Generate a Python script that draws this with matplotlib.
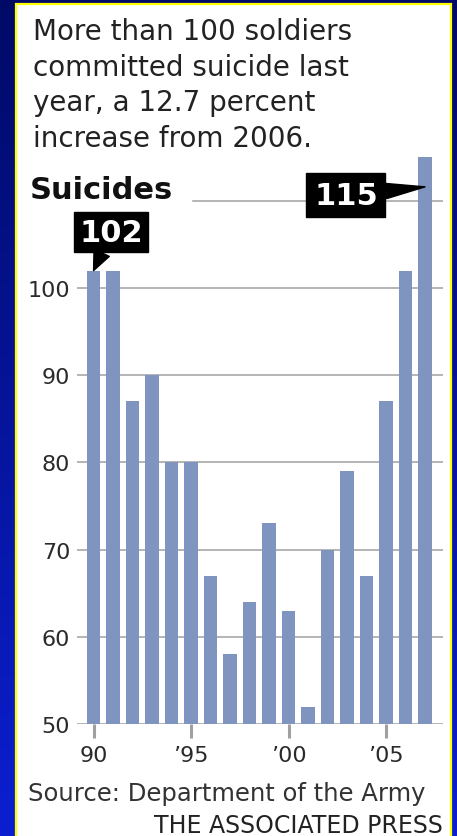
import numpy as np
import matplotlib.pyplot as plt
from matplotlib.colors import LinearSegmentedColormap
from matplotlib.patches import Rectangle

years = list(range(1990, 2008))
suicides = [102, 102, 87, 90, 80, 80, 67, 58, 64, 73, 63, 52, 70, 79, 67, 87, 102, 115]
xtick_years = [1990, 1995, 2000, 2005]
xtick_labels = ['90', '\u201995', '\u201900', '\u201905']
ytick_values = [50, 60, 70, 80, 90, 100]
title_lines = ['More than 100 soldiers', 'committed suicide last',
               'year, a 12.7 percent', 'increase from 2006.']

plt.rcParams['font.family'] = ['DejaVu Sans']
W, H = 457, 837
fig = plt.figure(figsize=(W / 100, H / 100), dpi=100)

# blue gradient backdrop + white panel with yellow edge
bg = fig.add_axes([0, 0, 1, 1])
grad = np.linspace(0, 1, 256).reshape(-1, 1)
cmap = LinearSegmentedColormap.from_list('bg', ['#000a66', '#0b1fd0'])
bg.imshow(grad, aspect='auto', extent=[0, 1, 0, 1], cmap=cmap, origin='upper')
bg.add_patch(Rectangle((16 / W, -0.01), (451 - 16) / W, 1.01 - 5 / H,
                       facecolor='white', edgecolor='#ffff00', lw=1.6))
bg.set_xlim(0, 1)
bg.set_ylim(0, 1)
bg.axis('off')

# main chart
ax = fig.add_axes([77 / W, (H - 725) / H, (443 - 77) / W, (725 - 149.5) / H])
ax.set_facecolor('none')
ax.bar(years, suicides, width=0.68, color='#7f95bf', zorder=2)
ax.set_xlim(1989.15, 2007.92)
ax.set_ylim(50, 116)
ax.set_yticks(ytick_values)
ax.yaxis.grid(True, color='#a0a0a0', lw=1.1)
ax.axhline(110, xmin=(193 - 77) / (443 - 77), color='#a0a0a0', lw=1.1, zorder=1)
ax.set_axisbelow(True)
for s in ax.spines.values():
    s.set_visible(False)
ax.tick_params(axis='y', length=0, pad=5, labelsize=16, labelcolor='#2a2a2a')
ax.set_xticks(xtick_years)
ax.set_xticklabels(xtick_labels)
ax.tick_params(axis='x', length=10, width=2.2, color='#a0a0a0', pad=5,
               labelsize=16, labelcolor='#2a2a2a')

# callouts
ax.annotate(str(suicides[0]), xy=(years[0], suicides[0]), xytext=(12.6, 27.5),
            textcoords='offset points', ha='center', va='center',
            fontsize=22, fontweight='bold', color='white',
            bbox=dict(boxstyle='square,pad=0.18', fc='black', ec='black'),
            arrowprops=dict(arrowstyle='wedge,tail_width=0.55', fc='black', ec='black',
                            shrinkA=0, shrinkB=0), annotation_clip=False)
ax.annotate(str(suicides[-1]), xy=(years[-1], suicides[-1] - 3.4), xytext=(-57, -6),
            textcoords='offset points', ha='center', va='center',
            fontsize=22, fontweight='bold', color='white',
            bbox=dict(boxstyle='square,pad=0.25', fc='black', ec='black'),
            arrowprops=dict(arrowstyle='wedge,tail_width=0.5', fc='black', ec='black',
                            shrinkA=0, shrinkB=0), annotation_clip=False)

# texts
for i, line in enumerate(title_lines):
    fig.text(33 / W, 1 - (40 + 35.7 * i) / H, line, fontsize=20, color='#222222',
             va='baseline', ha='left')
fig.text(30 / W, 1 - 199 / H, 'Suicides', fontsize=22, fontweight='bold',
         color='#111111', va='baseline', ha='left')
fig.text(28 / W, 1 - 801 / H, 'Source: Department of the Army', fontsize=17.5,
         color='#333333', va='baseline', ha='left')
fig.text(443 / W, 1 - 833 / H, 'THE ASSOCIATED PRESS', fontsize=17,
         color='#222222', va='baseline', ha='right')

fig.savefig('out.png', dpi=100)
